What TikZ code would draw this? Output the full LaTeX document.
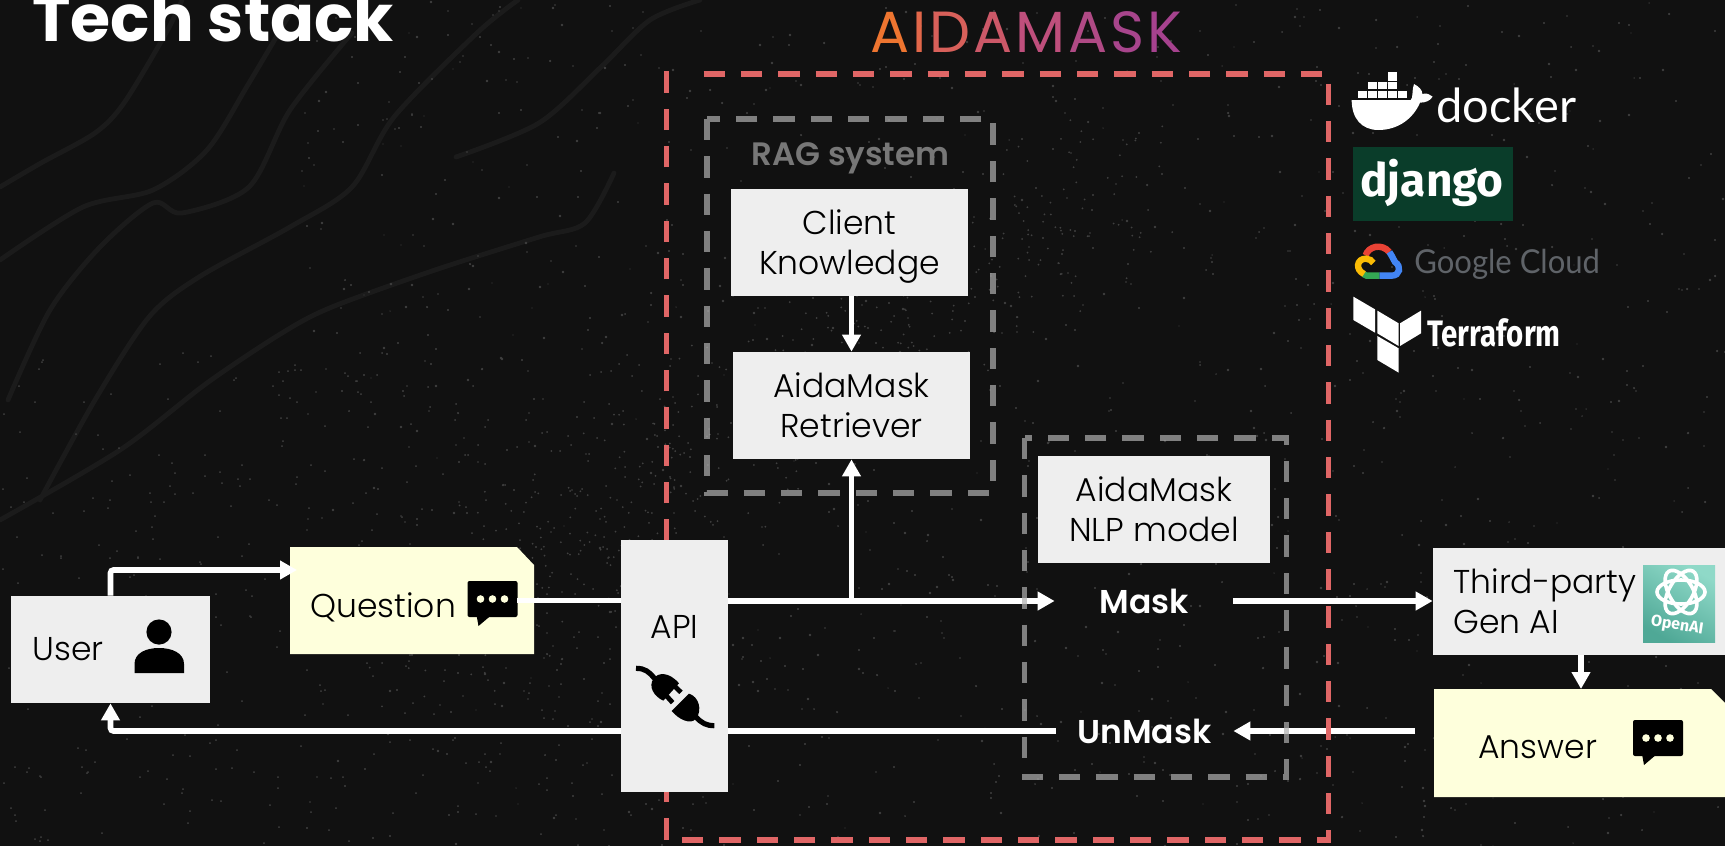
\documentclass[tikz,border=0pt]{standalone}
\usepackage{fontspec}
\usetikzlibrary{arrows.meta,calc}
\setmainfont{Poppins}[UprightFont={Poppins Light},BoldFont={Poppins SemiBold}]
\newfontfamily\titlefont{Poppins}
\newfontfamily\djangofont{Fira Sans}
\newfontfamily\terrafont[FakeStretch=0.8]{Fira Sans}
\newfontfamily\gcfont[FakeStretch=0.94]{Lato}
\newfontfamily\dockerfont{Lato}
\definecolor{bgc}{HTML}{111111}
\definecolor{boxc}{HTML}{EEEEEE}
\definecolor{notec}{HTML}{FEFFDC}
\definecolor{redc}{HTML}{E06666}
\definecolor{grayc}{HTML}{B0B0B0}
\definecolor{ragc}{HTML}{777777}
\definecolor{strandc}{HTML}{1B1B1B}
\definecolor{dotc}{HTML}{404040}
\definecolor{gcgray}{HTML}{5F6368}
\definecolor{djangoc}{HTML}{0A3D2A}
\definecolor{oailow}{HTML}{4FA896}
\definecolor{oaihigh}{HTML}{8FD9C8}
\definecolor{gred}{HTML}{EA4335}
\definecolor{gblue}{HTML}{4285F4}
\definecolor{ggreen}{HTML}{34A853}
\definecolor{gyellow}{HTML}{FBBC05}
\pgfdeclarelayer{bg}\pgfdeclarelayer{lines}\pgfdeclarelayer{dashes}
\pgfsetlayers{bg,lines,dashes,main}
\tikzset{
  boxed/.style={fill=boxc,inner sep=0pt,align=center,font=\fontsize{16.5}{20}\selectfont,text=black},
  plainlabel/.style={inner sep=0pt,font=\fontsize{16.5}{20}\selectfont,text=black,anchor=base west},
  masklabel/.style={inner sep=0pt,text=white,font=\fontsize{16.5}{20}\selectfont\bfseries,minimum height=20pt},
  conn/.style={draw=white,line width=2.8pt,rounded corners=1.5pt},
  arr/.style={conn,-{Triangle[length=8.5pt,width=9pt]}},
  graydash/.style={draw=grayc,opacity=.7,line width=2.7pt,dash pattern=on 10.67pt off 8pt},
  reddash/.style={draw=redc,line width=2.8pt,dash pattern=on 10.67pt off 8pt},
  strand/.style={draw=strandc,line width=2.4pt,line cap=round},
}
\newcommand\commenticon[2]{%
  \begin{scope}[shift={(#1,#2)}]
    \fill[black,rounded corners=1pt] (0,0) rectangle (50,36);
    \fill[black] (9,34) -- (11,45) -- (24,34) -- cycle;
    \fill[notec] (13,18) circle (1.9pt) (25,18) circle (1.9pt) (37,18) circle (1.9pt);
  \end{scope}}
\begin{document}
\begin{tikzpicture}[x=.5pt,y=-.5pt]
\useasboundingbox (0,0) rectangle (1725,846);
\begin{pgfonlayer}{bg}
  \fill[bgc] (0,0) rectangle (1725,846);
  \draw[strand] plot[smooth] coordinates {(0,260)(83,207)(153,190)(207,150)(249,83)(298,0)};
  \draw[strand] plot[smooth] coordinates {(0,187)(41,163)(95,133)(124,103)(166,33)(182,0)};
  \draw[strand] plot[smooth] coordinates {(40,500)(95,400)(149,317)(199,277)(290,227)(352,187)(394,117)(477,33)(518,0)};
  \draw[strand] plot[smooth] coordinates {(8,400)(50,310)(100,247)(153,203)(182,213)(249,187)(290,110)(352,33)};
  \draw[strand] plot[smooth] coordinates {(0,520)(120,450)(207,383)(282,333)(332,307)(435,270)(539,237)(585,223)(614,173)};
  \draw[strand] plot[smooth] coordinates {(456,157)(539,123)(601,67)(650,20)(700,0)};
  \pgfmathsetseed{4242}
  \foreach \i in {1,...,1300}{
    \pgfmathsetmacro\xx{300+random(1425)}
    \pgfmathsetmacro\yy{random(846)}
    \pgfmathsetmacro\rr{.35+.35*rnd}
    \fill[dotc] (\xx,\yy) circle (\rr pt);
  }
  \foreach \i in {1,...,400}{
    \pgfmathsetmacro\xx{random(700)}
    \pgfmathsetmacro\yy{350+random(496)}
    \fill[dotc] (\xx,\yy) circle (.5pt);
  }
  \foreach \i in {1,...,500}{
    \pgfmathsetmacro\tt{rnd}
    \pgfmathsetmacro\xx{420+700*\tt+random(120)-60}
    \pgfmathsetmacro\yy{640-460*\tt+random(160)-80}
    \fill[dotc] (\xx,\yy) circle (.5pt);
  }
\end{pgfonlayer}

% title
\node[inner sep=0pt,anchor=base west,text=white,font=\fontsize{32.5}{36}\titlefont\bfseries] (title) at (32,41) {Tech stack};
\node[inner sep=0pt,anchor=base,font=\fontsize{29}{30}\titlefont] (brand) at (1026.5,53) {%
  \textcolor[HTML]{EE7530}{A}\kern1.5pt\textcolor[HTML]{E2674A}{I}\kern1.5pt\textcolor[HTML]{D8605A}{D}\kern1.5pt\textcolor[HTML]{CC5868}{A}\kern1.5pt\textcolor[HTML]{BF4F7C}{M}\kern1.5pt\textcolor[HTML]{B04A85}{A}\kern1.5pt\textcolor[HTML]{A8458C}{S}\kern1.5pt\textcolor[HTML]{A6428E}{K}};

% dashed frames
\begin{pgfonlayer}{dashes}
  \draw[reddash] (703.5,74) -- (1328.6,74) -- (1328.6,840) -- (666.5,840) -- (666.5,74) -- (674.5,74);
  \draw[graydash] (707,119) rectangle (993,493);
  \draw[graydash] (1024.5,438) rectangle (1286.5,777);
\end{pgfonlayer}
\node[inner sep=0pt,text=ragc,font=\fontsize{16.2}{18}\selectfont\bfseries] (rag) at (850.5,158) {RAG system};

% boxes
\node[boxed,minimum width=99.5pt,minimum height=53.5pt] (user) at (110.5,649.5) {};
\node[plainlabel] (userlab) at (32,660) {User};
\fill[black] (159,632) circle (6.3pt);
\fill[black] (134.5,673) -- (134.5,664) .. controls (134.5,653) and (146,648) .. (159,648) .. controls (172,648) and (184,653) .. (184,664) -- (184,673) -- cycle;

\node[inner sep=0pt,minimum width=122pt,minimum height=53.5pt] (question) at (412,600.5) {};
\fill[notec] (290,547) -- (517,547) -- (534,565) -- (534,654) -- (290,654) -- cycle;
\node[plainlabel] (qlab) at (310,617) {Question};
\commenticon{467.5}{581}

\node[boxed,minimum width=53.5pt,minimum height=126pt] (api) at (674.5,666) {};
\node[inner sep=0pt,anchor=base,font=\fontsize{16.5}{20}\selectfont,text=black] (apilab) at (674.5,638) {API};
\begin{scope}[shift={(625,655)},scale=1/3]
  \draw[black,line width=2.6pt] (33,40) .. controls (60,40) and (72,50) .. (88,70);
  \fill[black] (162,85) -- (115,137) .. controls (88,125) and (68,95) .. (86,70) .. controls (100,52) and (132,50) .. cycle;
  \draw[black,line width=2.4pt] (147,92) -- (168,112);
  \draw[black,line width=2.4pt] (122,120) -- (143,143);
  \fill[black] (192,116) -- (140,168) .. controls (160,192) and (197,212) .. (214,190) .. controls (232,165) and (222,125) .. cycle;
  \draw[black,line width=2.6pt] (212,185) .. controls (230,205) and (245,212) .. (268,212);
\end{scope}

\node[boxed,minimum width=118.5pt,minimum height=53.5pt,text depth=0pt] (client) at (849.5,242.5) {Client\\Knowledge};
\node[boxed,minimum width=118.5pt,minimum height=53.5pt] (retr) at (851.5,405.5) {AidaMask\\Retriever};
\node[boxed,minimum width=116pt,minimum height=53.5pt] (nlp) at (1154,509.5) {AidaMask\\NLP model};

\node[masklabel,minimum width=89pt] (mask) at (1144,601) {Mask};
\node[masklabel,minimum width=88.5pt] (unmask) at (1144.5,731) {UnMask};

% third party
\node[boxed,minimum width=146pt,minimum height=53.5pt] (third) at (1579,601.5) {};
\node[plainlabel,align=left,anchor=north west] (thirdlab) at (1453,568) {Third-party\\Gen AI};
\shade[bottom color=oailow,top color=oaihigh,shading angle=-30] (1643,565) rectangle (1715,642);
\begin{scope}[shift={(1681,592)}]
  \draw[white,line width=1.8pt] (0,0) ellipse [x radius=12pt,y radius=6pt,rotate=0];
  \draw[white,line width=1.8pt] (0,0) ellipse [x radius=12pt,y radius=6pt,rotate=60];
  \draw[white,line width=1.8pt] (0,0) ellipse [x radius=12pt,y radius=6pt,rotate=120];
\end{scope}
\node[inner sep=0pt,rotate=-9,text=white,font=\fontsize{8}{9}\djangofont\bfseries] (openai) at (1677,626) {OpenAI};

% answer
\node[inner sep=0pt,minimum width=145.5pt,minimum height=54pt] (answer) at (1579.5,743) {};
\fill[notec] (1434,689) -- (1711,689) -- (1725,703) -- (1725,797) -- (1434,797) -- cycle;
\node[plainlabel] (anslab) at (1478,758) {Answer};
\commenticon{1633}{720}

% connector end points
\coordinate (qin) at (297,570);
\coordinate (qout) at (517,600.5);
\coordinate (apiin) at (621,600.5);
\coordinate (apiout) at (728,601);
\coordinate (apibackR) at (728,731);
\coordinate (apibackL) at (621,731);
\coordinate (answerout) at (1415,731);
\coordinate (branch) at (851.5,601);
\coordinate (thirdB) at (1581,655);
\coordinate (answerT) at (1581,689);

\draw[arr] (user.north) |- (qin);
\draw[conn] (qout) -- (apiin);
\draw[arr] (retr.north |- client.south) -- (retr.north);
\draw[arr] (thirdB) -- (answerT);
\draw[arr] (mask.east) -- (mask.east -| third.west);
\begin{pgfonlayer}{lines}
  \draw[arr] (apibackL) -| (user.south);
  \draw[arr] (apiout) -- (mask.west);
  \draw[arr] (branch) -- (retr.south);
  \draw[conn] (unmask.west) -- (apibackR);
  \draw[arr] (answerout) -- (unmask.east);
\end{pgfonlayer}

% logos
\begin{scope}[shift={(1345,65)},scale=1/3]
  \fill[white] (130,22) rectangle (155,47);
  \foreach \a in {70,100,130} \fill[white] (\a,50) rectangle ++(25,23);
  \foreach \a in {40,70,100,130,160} \fill[white] (\a,78) rectangle ++(25,22);
  \fill[white] (20,105) -- (197,105) .. controls (205,100) and (200,75) .. (207,57)
    .. controls (222,65) and (232,75) .. (232,87) .. controls (245,83) and (255,88) .. (263,95)
    .. controls (255,108) and (240,113) .. (225,113)
    .. controls (205,160) and (160,195) .. (100,195)
    .. controls (50,195) and (20,160) .. cycle;
\end{scope}
\node[inner sep=0pt,anchor=base west,text=white,font=\fontsize{23.5}{26}\dockerfont] (docker) at (1436,122) {docker};

\fill[djangoc] (1353,147) rectangle (1513,221);
\node[inner sep=0pt,anchor=base,text=white,font=\fontsize{23}{26}\djangofont\bfseries] (django) at (1432,196) {django};

\begin{scope}[shift={(1350,238)},scale=1/3,line width=3.2pt]
  \draw[gred] (47,52) .. controls (55,25) and (95,15) .. (118,42);
  \draw[gblue] (118,42) .. controls (130,60) and (130,65) .. (135,72) .. controls (155,85) and (150,113) .. (125,113) -- (88,113);
  \draw[ggreen] (88,113) -- (50,113) -- (40,108);
  \draw[gyellow] (42,108) .. controls (15,95) and (20,62) .. (48,62) .. controls (58,62) and (66,68) .. (70,75);
\end{scope}
\node[inner sep=0pt,anchor=base west,text=gcgray,font=\fontsize{16.5}{18}\gcfont] (gcloud) at (1414,273) {Google Cloud};

\begin{scope}[shift={(1300,50)},scale=1/3]
  \fill[white] (160,740) -- (225,778) -- (225,848) -- (160,810) -- cycle;
  \fill[white] (232,782) -- (296,820) -- (296,888) -- (232,850) -- cycle;
  \fill[white] (300,820) -- (363,782) -- (363,850) -- (300,888) -- cycle;
  \fill[white] (232,858) -- (296,895) -- (296,968) -- (232,930) -- cycle;
\end{scope}
\node[inner sep=0pt,anchor=base west,text=white,font=\fontsize{18.4}{20}\terrafont\bfseries] (terra) at (1427,346) {Terraform};
\end{tikzpicture}
\end{document}
